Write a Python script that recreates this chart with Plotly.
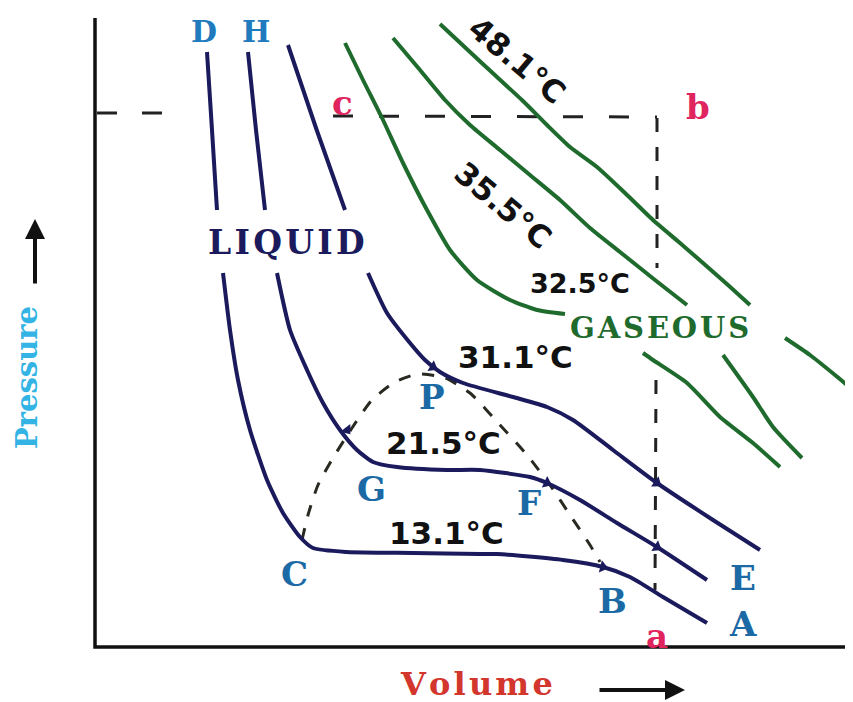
import plotly.graph_objects as go

# ---- data (volume / pressure, arbitrary diagram units) ----
axis_v = [0, 0, 758]
axis_p = [629, 0, 0]

# liquid-side steep parts (above the LIQUID label)
iso13_top_v = [112, 117, 122]
iso13_top_p = [595, 517, 437]
iso21_top_v = [153, 161, 170]
iso21_top_p = [595, 517, 437]
iso31_top_v = [193, 221, 250]
iso31_top_p = [602, 519, 437]

# lower parts of the sub-critical / critical isotherms
iso13_v = [128, 135, 143, 155, 172, 188, 205, 218, 252, 318, 385, 402, 468, 508, 535, 568, 612]
iso13_p = [374, 317, 267, 217, 167, 134, 110, 99, 95, 94, 93, 93, 87, 80, 70, 50, 24]
iso21_v = [182, 195, 212, 228, 245, 262, 278, 302, 352, 385, 435, 452, 485, 522, 562, 612]
iso21_p = [374, 317, 277, 244, 217, 197, 185, 180, 177, 177, 170, 164, 147, 124, 100, 67]
iso31_v = [273, 292, 315, 330, 345, 368, 418, 452, 478, 518, 562, 618, 665]
iso31_p = [374, 334, 304, 287, 275, 264, 250, 240, 227, 197, 164, 127, 97]

# two-phase dome (dashed)
dome_v = [207, 213, 223, 238, 257, 277, 300, 323, 350, 375, 405, 432, 455, 475, 495, 505]
dome_p = [107, 132, 162, 189, 219, 247, 265, 273, 269, 254, 222, 192, 162, 132, 102, 85]

# dashed path a-b-c
hline1_v = [2, 75]
hline1_p = [534, 534]
hline2_v = [238, 562]
hline2_p = [531, 530]
vline1_v = [562, 562]
vline1_p = [529, 379]
vline2_v = [561, 560]
vline2_p = [267, 57]

# gaseous isotherms (green)
iso32_v = [250, 268, 288, 308, 332, 355, 382, 415, 442, 470]
iso32_p = [604, 567, 527, 484, 437, 397, 367, 347, 337, 333]
iso35_v = [298, 325, 350, 375, 405, 435, 465, 495, 525, 560, 592]
iso35_p = [609, 577, 547, 522, 497, 472, 447, 419, 395, 367, 342]
iso48_v = [345, 375, 402, 428, 452, 475, 502, 530, 558, 585, 608, 633, 655]
iso48_p = [623, 595, 570, 546, 522, 500, 480, 454, 427, 404, 384, 362, 342]
gas_a_v = [548, 558, 592, 625, 658, 685]
gas_a_p = [294, 287, 264, 230, 204, 180]
gas_b_v = [628, 658, 678, 707]
gas_b_p = [292, 250, 220, 189]
gas_c_v = [690, 715, 740, 758]
gas_c_p = [309, 292, 272, 257]

# direction arrowheads on isotherms
arrow_v = [508, 252, 452, 562, 338, 562]
arrow_p = [80, 217, 164, 100, 280, 164]
arrow_angle = [14, 52, 25, 32, 30, 36]

# labels
temp_text = ["48.1°C", "35.5°C", "32.5°C", "31.1°C", "21.5°C", "13.1°C"]
temp_v = [422, 408, 485, 420, 348, 351]
temp_p = [587, 442, 364, 290, 204, 114]
temp_angle = [40, 40, 0, 0, 0, 0]
temp_size = [31, 31, 27, 31, 31, 31]

point_text = ["P", "G", "F", "C", "B", "E", "A"]
point_v = [337, 276, 434, 199, 517, 648, 648]
point_p = [250, 158, 144, 73, 46, 69, 23]

top_text = ["D", "H"]
top_v = [109, 161]
top_p = [616, 616]

corner_text = ["c", "b", "a"]
corner_v = [247, 603, 562]
corner_p = [544, 540, 11]

NAVY = "#1b1a5c"
GREEN = "#1f6b2e"
BLUE = "#1b6aa5"
PINK = "#e0245e"
SERIF = "DejaVu Serif"
SANS = "DejaVu Sans"
HS = "\u200a"

fig = go.Figure()

def line(v, p, color, width=4, dash=None):
    fig.add_trace(go.Scatter(
        x=v, y=p, mode="lines",
        line=dict(color=color, width=width, shape="spline", smoothing=0.6,
                  dash=dash),
        hoverinfo="skip"))

# axes
fig.add_trace(go.Scatter(x=axis_v, y=axis_p, mode="lines",
                         line=dict(color="#111111", width=3.5), hoverinfo="skip"))

# dashed construction lines
for v, p, d in [(hline1_v, hline1_p, "20px,25px"), (hline2_v, hline2_p, "20px,26px"),
                (vline1_v, vline1_p, "14px,15px"), (vline2_v, vline2_p, "14px,15px")]:
    line(v, p, "#222222", width=3, dash=d)
line(dome_v, dome_p, "#2a2a22", width=3, dash="12px,12px")

# navy isotherms
for v, p in [(iso13_top_v, iso13_top_p), (iso21_top_v, iso21_top_p),
             (iso31_top_v, iso31_top_p), (iso13_v, iso13_p),
             (iso21_v, iso21_p), (iso31_v, iso31_p)]:
    line(v, p, NAVY, width=4)

# green isotherms
for v, p in [(iso32_v, iso32_p), (iso35_v, iso35_p), (iso48_v, iso48_p),
             (gas_a_v, gas_a_p), (gas_b_v, gas_b_p), (gas_c_v, gas_c_p)]:
    line(v, p, GREEN, width=4)

# arrowheads
fig.add_trace(go.Scatter(x=arrow_v, y=arrow_p, mode="markers",
                         marker=dict(symbol="triangle-right", size=11, color=NAVY,
                                     angle=arrow_angle),
                         hoverinfo="skip"))

ann = []
for t, v, p, a, s in zip(temp_text, temp_v, temp_p, temp_angle, temp_size):
    ann.append(dict(x=v, y=p, text="<b>%s</b>" % t, textangle=a, showarrow=False,
                    font=dict(family=SANS, size=s, color="#111111")))
for t, v, p in zip(point_text, point_v, point_p):
    ann.append(dict(x=v, y=p, text="<b>%s</b>" % t, showarrow=False,
                    font=dict(family=SERIF, size=34, color=BLUE)))
for t, v, p in zip(top_text, top_v, top_p):
    ann.append(dict(x=v, y=p, text="<b>%s</b>" % t, showarrow=False,
                    font=dict(family=SERIF, size=30, color="#1f7bbd")))
for t, v, p in zip(corner_text, corner_v, corner_p):
    ann.append(dict(x=v, y=p, text="<b>%s</b>" % t, showarrow=False,
                    font=dict(family=SERIF, size=34, color=PINK)))

ann.append(dict(x=191, y=405, text="<b>" + HS.join("LIQUID") + "</b>", showarrow=False,
                font=dict(family=SERIF, size=33, color=NAVY)))
ann.append(dict(x=564, y=319, text="<b>" + HS.join("GASEOUS") + "</b>",
                showarrow=False, font=dict(family=SERIF, size=29, color=GREEN)))
ann.append(dict(x=-68, y=269, text="<b>Pressure</b>", textangle=-90, showarrow=False,
                font=dict(family=SERIF, size=29, color="#33b4e4")))
ann.append(dict(x=381, y=-37, text="<b>" + HS.join("Volume") + "</b>", showarrow=False,
                font=dict(family=SERIF, size=32, color="#d3362c")))
# axis-direction arrows
ann.append(dict(x=-60, y=428, ax=-60, ay=362, xref="x", yref="y", axref="x", ayref="y",
                text="", showarrow=True, arrowhead=2, arrowsize=1, arrowwidth=4,
                arrowcolor="#111111"))
ann.append(dict(x=590, y=-43, ax=503, ay=-43, xref="x", yref="y", axref="x", ayref="y",
                text="", showarrow=True, arrowhead=2, arrowsize=1, arrowwidth=4,
                arrowcolor="#111111"))

# figure sized to fit inside the page's 8px body margin; ranges place the frame
# where the reference has it
fig.update_layout(
    width=845, height=694,
    margin=dict(l=0, r=0, t=0, b=0),
    paper_bgcolor="white", plot_bgcolor="white",
    showlegend=False,
    xaxis=dict(range=[-87, 758], visible=False, fixedrange=True),
    yaxis=dict(range=[-55, 639], visible=False, fixedrange=True),
    annotations=ann,
)

fig.write_html("out.html")
